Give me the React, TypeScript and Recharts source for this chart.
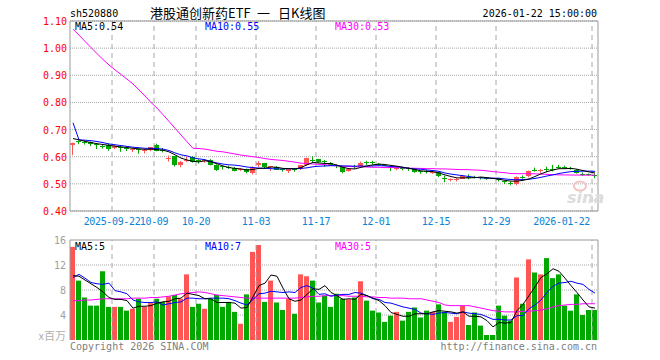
import React from 'react';
import { ComposedChart, Bar, Line, XAxis, YAxis, CartesianGrid, ReferenceLine } from 'recharts';

const dates = [
  '2025-09-11','2025-09-12','2025-09-15','2025-09-16','2025-09-17','2025-09-18','2025-09-19','2025-09-22','2025-09-23','2025-09-24',
  '2025-09-25','2025-09-26','2025-09-29','2025-09-30','2025-10-09','2025-10-10','2025-10-13','2025-10-14','2025-10-15','2025-10-16',
  '2025-10-17','2025-10-20','2025-10-21','2025-10-22','2025-10-23','2025-10-24','2025-10-27','2025-10-28','2025-10-29','2025-10-30',
  '2025-10-31','2025-11-03','2025-11-04','2025-11-05','2025-11-06','2025-11-07','2025-11-10','2025-11-11','2025-11-12','2025-11-13',
  '2025-11-14','2025-11-17','2025-11-18','2025-11-19','2025-11-20','2025-11-21','2025-11-24','2025-11-25','2025-11-26','2025-11-27',
  '2025-11-28','2025-12-01','2025-12-02','2025-12-03','2025-12-04','2025-12-05','2025-12-08','2025-12-09','2025-12-10','2025-12-11',
  '2025-12-12','2025-12-15','2025-12-16','2025-12-17','2025-12-18','2025-12-19','2025-12-22','2025-12-23','2025-12-24','2025-12-25',
  '2025-12-26','2025-12-29','2025-12-30','2025-12-31','2026-01-05','2026-01-06','2026-01-07','2026-01-08','2026-01-09','2026-01-12',
  '2026-01-13','2026-01-14','2026-01-15','2026-01-16','2026-01-19','2026-01-20','2026-01-21','2026-01-22',
];

const openP = [
  0.643,0.658,0.655,0.654,0.648,0.641,0.645,0.632,0.637,0.631,
  0.626,0.627,0.620,0.623,0.645,0.626,0.590,0.601,0.572,0.586,
  0.600,0.588,0.583,0.589,0.570,0.565,0.563,0.560,0.552,0.554,
  0.541,0.571,0.576,0.561,0.563,0.556,0.547,0.556,0.553,0.569,
  0.589,0.590,0.584,0.578,0.568,0.562,0.548,0.565,0.567,0.579,
  0.579,0.575,0.571,0.562,0.555,0.560,0.557,0.554,0.546,0.548,
  0.540,0.542,0.522,0.514,0.514,0.520,0.527,0.527,0.524,0.522,
  0.521,0.520,0.509,0.504,0.501,0.527,0.527,0.552,0.548,0.554,
  0.556,0.562,0.562,0.560,0.552,0.538,0.536,0.534,
];
const highP = [
  0.652,0.660,0.659,0.656,0.650,0.643,0.648,0.642,0.639,0.633,
  0.631,0.629,0.628,0.636,0.648,0.632,0.604,0.603,0.584,0.600,
  0.602,0.591,0.590,0.591,0.572,0.567,0.567,0.562,0.558,0.556,
  0.565,0.584,0.577,0.566,0.565,0.558,0.556,0.558,0.570,0.597,
  0.601,0.592,0.588,0.580,0.572,0.563,0.557,0.570,0.582,0.585,
  0.585,0.576,0.573,0.566,0.562,0.562,0.562,0.556,0.547,0.552,
  0.548,0.543,0.530,0.520,0.521,0.533,0.535,0.530,0.526,0.525,
  0.522,0.521,0.511,0.508,0.527,0.531,0.549,0.560,0.555,0.563,
  0.570,0.570,0.567,0.563,0.554,0.542,0.538,0.538,
];
const lowP = [
  0.606,0.646,0.645,0.639,0.628,0.630,0.622,0.628,0.618,0.621,
  0.617,0.611,0.612,0.620,0.620,0.616,0.582,0.564,0.561,0.580,
  0.578,0.575,0.578,0.568,0.548,0.553,0.555,0.546,0.547,0.539,
  0.535,0.562,0.557,0.548,0.551,0.545,0.540,0.545,0.551,0.567,
  0.579,0.576,0.563,0.566,0.558,0.539,0.545,0.556,0.565,0.570,
  0.571,0.569,0.566,0.547,0.550,0.550,0.548,0.541,0.537,0.538,
  0.537,0.525,0.506,0.509,0.509,0.518,0.517,0.520,0.516,0.515,
  0.518,0.509,0.500,0.495,0.495,0.519,0.524,0.545,0.541,0.543,
  0.546,0.556,0.555,0.552,0.538,0.529,0.530,0.521,
];
const closeP = [
  0.651,0.655,0.653,0.646,0.645,0.636,0.631,0.639,0.634,0.629,
  0.628,0.624,0.624,0.634,0.622,0.622,0.594,0.567,0.582,0.589,
  0.582,0.585,0.587,0.571,0.553,0.562,0.561,0.550,0.554,0.542,
  0.562,0.577,0.560,0.564,0.553,0.553,0.554,0.554,0.568,0.595,
  0.587,0.579,0.582,0.571,0.566,0.544,0.556,0.563,0.578,0.577,
  0.577,0.571,0.570,0.560,0.558,0.557,0.555,0.544,0.544,0.544,
  0.545,0.528,0.520,0.517,0.517,0.530,0.525,0.525,0.522,0.521,
  0.520,0.512,0.507,0.502,0.525,0.525,0.546,0.550,0.551,0.552,
  0.554,0.560,0.560,0.558,0.542,0.536,0.534,0.532,
];

const ma5 = [
  0.667,0.662,0.657,0.652,0.648,0.645,0.642,0.639,0.636,0.634,
  0.631,0.629,0.627,0.628,0.626,0.624,0.618,0.607,0.595,0.588,
  0.583,0.581,0.585,0.581,0.574,0.566,0.560,0.557,0.555,0.551,
  0.553,0.557,0.558,0.562,0.561,0.557,0.556,0.555,0.560,0.570,
  0.579,0.577,0.575,0.575,0.569,0.561,0.556,0.555,0.561,0.566,
  0.570,0.573,0.571,0.568,0.565,0.561,0.557,0.553,0.548,0.546,
  0.545,0.540,0.533,0.527,0.522,0.522,0.522,0.523,0.525,0.523,
  0.520,0.517,0.513,0.510,0.510,0.513,0.518,0.527,0.537,0.545,
  0.551,0.556,0.556,0.557,0.554,0.549,0.544,0.540,
];
const ma10 = [
  0.725,0.662,0.661,0.659,0.656,0.652,0.647,0.644,0.641,0.638,
  0.635,0.633,0.631,0.631,0.630,0.628,0.623,0.614,0.607,0.603,
  0.596,0.592,0.589,0.582,0.577,0.573,0.570,0.569,0.566,0.562,
  0.560,0.558,0.557,0.556,0.555,0.555,0.556,0.556,0.557,0.559,
  0.563,0.565,0.566,0.567,0.567,0.566,0.566,0.565,0.566,0.565,
  0.566,0.567,0.566,0.564,0.563,0.561,0.557,0.555,0.554,0.551,
  0.549,0.546,0.540,0.536,0.533,0.530,0.527,0.524,0.522,0.521,
  0.521,0.521,0.518,0.516,0.515,0.516,0.517,0.520,0.524,0.529,
  0.533,0.538,0.542,0.545,0.546,0.547,0.547,0.546,
];
const ma30 = [
  1.070,1.048,1.025,1.002,0.980,0.958,0.938,0.920,0.903,0.886,
  0.868,0.846,0.824,0.800,0.779,0.755,0.730,0.705,0.680,0.655,
  0.631,0.630,0.628,0.624,0.620,0.618,0.614,0.610,0.606,0.603,
  0.600,0.597,0.593,0.590,0.588,0.586,0.583,0.580,0.576,0.575,
  0.573,0.572,0.571,0.568,0.566,0.565,0.564,0.563,0.5625,0.562,
  0.561,0.561,0.560,0.560,0.560,0.559,0.558,0.5575,0.557,0.556,
  0.556,0.555,0.555,0.554,0.553,0.5525,0.552,0.551,0.550,0.548,
  0.545,0.543,0.541,0.538,0.5375,0.5375,0.5375,0.537,0.536,0.535,
  0.534,0.533,0.533,0.5325,0.5325,0.532,0.532,0.532,
];

const volume = [
  14.9,9.5,6.8,5.5,5.5,11.0,5.3,5.3,5.3,4.7,
  5.0,6.6,5.3,5.9,6.6,6.1,7.0,7.2,6.6,10.5,
  5.3,5.8,5.0,6.6,7.2,5.3,6.1,4.5,2.6,7.3,
  14.1,15.2,6.1,9.5,6.0,4.8,6.6,4.2,10.5,10.2,
  9.5,6.0,7.1,5.3,7.4,6.6,6.5,6.8,9.4,6.3,
  4.7,4.4,2.9,3.9,4.5,3.1,4.5,5.2,3.6,4.7,
  4.5,5.7,4.5,2.9,3.7,5.5,2.4,4.4,2.3,0.8,
  0.8,5.5,3.9,3.1,10.0,5.8,12.9,10.8,10.5,13.1,
  9.9,10.5,5.5,4.7,7.3,4.0,4.8,4.8,
];
const volMa5 = [
  10.3,10.2,9.6,9.0,8.4,7.7,6.8,6.5,6.5,6.3,
  5.1,5.4,5.4,5.5,5.9,6.1,6.2,6.6,6.7,7.5,
  7.3,7.1,6.6,6.6,6.0,6.0,6.0,5.9,5.1,5.2,
  6.9,8.7,9.1,10.4,10.2,8.3,6.6,6.2,6.4,7.3,
  8.2,8.1,8.7,7.6,7.1,6.5,6.6,6.5,7.3,7.1,
  6.7,6.3,5.5,4.4,4.1,3.8,3.8,4.2,4.2,4.2,
  4.5,4.7,4.6,4.5,4.3,4.5,3.8,3.8,3.7,3.1,
  2.1,2.8,2.7,2.8,4.7,5.7,7.1,8.5,10.0,10.6,
  11.4,11.0,9.9,8.7,7.6,6.4,5.3,5.1,
];
const volMa10 = [
  10.0,10.5,9.9,9.2,9.0,8.9,9.1,7.9,7.7,7.4,
  6.4,6.1,6.0,6.0,6.1,5.6,5.8,6.0,6.1,6.7,
  6.7,6.6,6.6,6.7,6.7,6.7,6.6,6.3,5.9,5.6,
  6.5,7.4,7.5,7.8,7.7,7.6,7.7,7.6,8.4,8.7,
  8.3,7.3,7.4,7.0,7.2,7.3,7.3,7.6,7.5,7.1,
  6.6,6.5,6.0,5.9,5.6,5.3,5.1,4.9,4.3,4.2,
  4.1,4.3,4.4,4.3,4.2,4.5,4.3,4.2,4.1,3.7,
  3.3,3.3,3.2,3.2,3.9,3.9,5.0,5.6,6.4,7.6,
  8.6,9.1,9.2,9.4,9.1,8.9,8.1,7.5,
];
const volMa30 = [
  6.3,6.3,6.4,6.4,6.5,6.6,6.6,6.6,6.6,6.6,
  6.7,6.7,6.7,6.8,6.8,6.9,7.0,7.2,7.4,7.5,
  7.6,7.7,7.6,7.4,7.2,7.1,7.0,6.9,6.8,6.7,
  6.7,6.7,6.7,6.7,6.7,6.7,6.7,6.7,6.8,6.9,
  7.0,7.0,7.1,7.1,7.1,7.1,7.0,7.0,7.0,6.9,
  6.9,6.8,6.8,6.7,6.7,6.7,6.6,6.6,6.6,6.4,
  6.2,6.0,5.6,5.5,5.5,5.5,5.5,5.3,5.1,4.9,
  4.7,4.6,4.5,4.5,4.5,4.6,4.6,4.7,4.8,5.0,
  5.3,5.5,5.6,5.7,5.7,5.8,5.8,5.8,
];

const tickDates = ['2025-09-22','2025-10-09','2025-10-20','2025-11-03','2025-11-17','2025-12-01','2025-12-15','2025-12-29','2026-01-22'];
const tickLabels = ['2025-09-22','10-09','10-20','11-03','11-17','12-01','12-15','12-29','2026-01-22'];
const priceTicks = [0.4, 0.5, 0.6, 0.7, 0.8, 0.9, 1.0, 1.1];
const volTicks = [0, 4, 8, 12, 16];

const titleParts = ['港股通创新药ETF', '一', '日K线图'];
const code = 'sh520880';
const stamp = '2026-01-22 15:00:00';
const priceMaLabels = ['MA5:0.54', 'MA10:0.55', 'MA30:0.53'];
const volMaLabels = ['MA5:5', 'MA10:7', 'MA30:5'];

const RED = '#ff5555';
const GREEN = '#00a800';
const GRID = '#a8a8a8';
const MONO = '"DejaVu Sans Mono", monospace';

const rows = dates.map((d, i) => ({
  date: d,
  open: openP[i],
  high: highP[i],
  low: lowP[i],
  close: closeP[i],
  range: [lowP[i], highP[i]],
  ma5: ma5[i],
  ma10: ma10[i],
  ma30: ma30[i],
  vol: volume[i],
  vma5: volMa5[i],
  vma10: volMa10[i],
  vma30: volMa30[i],
  up: closeP[i] > openP[i],
}));

const Candle = (props: any) => {
  const { x, payload } = props;
  let { y, height } = props;
  if (height < 0) { y = y + height; height = -height; }
  const { open, close, high, low } = payload;
  const color = close > open ? RED : GREEN;
  const span = high - low;
  const toY = (v: number) => y + ((high - v) / span) * height;
  const yo = toY(open);
  const yc = toY(close);
  const top = Math.min(yo, yc);
  const bot = Math.max(yo, yc);
  const bx = Math.round(x);
  const cx = bx + 2.5;
  return (
    <g>
      <line x1={cx} x2={cx} y1={y} y2={y + height} stroke={color} strokeWidth={1} />
      <rect x={bx} y={Math.round(top)} width={5} height={Math.max(1, Math.round(bot - top))} fill={color} />
    </g>
  );
};

const VolBar = (props: any) => {
  const { x, y, height, payload } = props;
  return <rect x={Math.round(x)} y={y} width={5} height={height} fill={payload.up ? RED : GREEN} />;
};

const PriceYTick = (props: any) => {
  const { y, payload } = props;
  return (
    <text x={67} y={y} dy={4} textAnchor="end" fill="#ff0000" fontSize={10} fontFamily={MONO}>
      {Number(payload.value).toFixed(2)}
    </text>
  );
};

const VolYTick = (props: any) => {
  const { y, payload } = props;
  const v = payload.value;
  if (v === 0) {
    return (
      <text x={66} y={y} dy={0} textAnchor="end" fill="#b0b0b0" fontSize={11} fontFamily='"Noto Sans CJK SC", sans-serif'>
        x百万
      </text>
    );
  }
  return (
    <text x={66} y={y} dy={4} textAnchor="end" fill="#a0a0a0" fontSize={10} fontFamily={MONO}>
      {v}
    </text>
  );
};

const DateTick = (props: any) => {
  const { x, y, payload } = props;
  const off = payload && typeof payload.offset === 'number' ? payload.offset : 3;
  const start = x - off;
  const idx = tickDates.indexOf(payload.value);
  const label = idx >= 0 ? tickLabels[idx] : payload.value;
  const last = idx === tickDates.length - 1;
  return (
    <text
      x={last ? start - 2 : start}
      y={y + 14}
      textAnchor={last ? 'end' : 'middle'}
      fill="#0a84d6"
      fontSize={10}
      letterSpacing={-0.35}
      fontFamily={MONO}
    >
      {label}
    </text>
  );
};

export default function App() {
  const lastDate = dates[dates.length - 1];
  return (
    <div style={{ position: 'absolute', left: 0, top: 0, width: 660, height: 360, background: '#fff' }}>
      <div style={{ position: 'absolute', left: 0, top: 0 }}>
        <ComposedChart width={660} height={232} data={rows} margin={{ top: 21, right: 62, bottom: 0, left: 0 }} barCategoryGap={0}>
          <CartesianGrid vertical={false} stroke={GRID} strokeDasharray="1 1" />
          <XAxis
            dataKey="date"
            ticks={tickDates}
            interval={0}
            height={21}
            tickLine={false}
            tickSize={0}
            tickMargin={0}
            axisLine={{ stroke: '#999' }}
            tick={<DateTick />}
          />
          <YAxis
            width={70}
            domain={[0.4, 1.1]}
            ticks={priceTicks}
            allowDataOverflow
            tickLine={false}
            tickSize={0}
            axisLine={{ stroke: '#999' }}
            tick={<PriceYTick />}
          />
          {tickDates.map((d) => (
            <ReferenceLine key={d} x={d} position="start" stroke={GRID} strokeDasharray="5 4" />
          ))}
          <ReferenceLine y={1.1} stroke="#999" />
          <ReferenceLine x={lastDate} position="end" stroke="#999" />
          <Bar dataKey="range" shape={<Candle />} isAnimationActive={false} />
          <Line type="linear" dataKey="ma30" stroke="#ff00ff" strokeWidth={1} dot={false} activeDot={false} isAnimationActive={false} />
          <Line type="linear" dataKey="ma10" stroke="#0000ff" strokeWidth={1} dot={false} activeDot={false} isAnimationActive={false} />
          <Line type="linear" dataKey="ma5" stroke="#000000" strokeWidth={1} dot={false} activeDot={false} isAnimationActive={false} />
        </ComposedChart>
      </div>
      <div style={{ position: 'absolute', left: 0, top: 230 }}>
        <ComposedChart width={660} height={130} data={rows} margin={{ top: 10, right: 62, bottom: 20, left: 0 }} barCategoryGap={0}>
          <CartesianGrid vertical={false} stroke={GRID} strokeDasharray="1 1" horizontalValues={[4, 8, 12]} />
          <XAxis dataKey="date" hide />
          <YAxis
            width={70}
            domain={[0, 16]}
            ticks={volTicks}
            allowDataOverflow
            tickLine={false}
            tickSize={0}
            axisLine={{ stroke: '#999' }}
            tick={<VolYTick />}
          />
          {tickDates.map((d) => (
            <ReferenceLine key={d} x={d} position="start" stroke={GRID} strokeDasharray="5 4" />
          ))}
          <ReferenceLine y={16} stroke="#999" />
          <ReferenceLine x={lastDate} position="end" stroke="#999" />
          <Bar dataKey="vol" shape={<VolBar />} isAnimationActive={false} />
          <Line type="linear" dataKey="vma30" stroke="#ff00ff" strokeWidth={1} dot={false} activeDot={false} isAnimationActive={false} />
          <Line type="linear" dataKey="vma10" stroke="#0000ff" strokeWidth={1} dot={false} activeDot={false} isAnimationActive={false} />
          <Line type="linear" dataKey="vma5" stroke="#000000" strokeWidth={1} dot={false} activeDot={false} isAnimationActive={false} />
        </ComposedChart>
      </div>
      <svg width={660} height={360} style={{ position: 'absolute', left: 0, top: 0, pointerEvents: 'none' }}>
        <text x={70} y={17} fontSize={10} fontFamily={MONO} fill="#000">{code}</text>
        <text x={150} y={18} fontSize={13} fontFamily='"Noto Sans CJK SC", sans-serif' fill="#000">
          <tspan>{titleParts[0]}</tspan>
          <tspan x={257}>{titleParts[1]}</tspan>
          <tspan x={278}>{titleParts[2]}</tspan>
        </text>
        <text x={597} y={17} textAnchor="end" fontSize={10} fontFamily={MONO} fill="#000">{stamp}</text>
        <text x={75} y={30} fontSize={10} fontFamily={MONO} fill="#000">{priceMaLabels[0]}</text>
        <text x={205} y={30} fontSize={10} fontFamily={MONO} fill="#0000ff">{priceMaLabels[1]}</text>
        <text x={335} y={30} fontSize={10} fontFamily={MONO} fill="#ff00ff">{priceMaLabels[2]}</text>
        <text x={75} y={250} fontSize={10} fontFamily={MONO} fill="#000">{volMaLabels[0]}</text>
        <text x={205} y={250} fontSize={10} fontFamily={MONO} fill="#0000ff">{volMaLabels[1]}</text>
        <text x={335} y={250} fontSize={10} fontFamily={MONO} fill="#ff00ff">{volMaLabels[2]}</text>
        <text x={70} y={350} fontSize={10} fontFamily={MONO} fill="#808080">Copyright 2026 SINA.COM</text>
        <text x={597} y={350} textAnchor="end" fontSize={10} fontFamily={MONO} fill="#808080">http://finance.sina.com.cn</text>
        <ellipse cx={580} cy={186} rx={6} ry={4.5} fill="none" stroke="#f3c4c4" strokeWidth={2} />
        <text x={567} y={203} fontSize={16} fontStyle="italic" fontWeight="bold" fontFamily='"DejaVu Sans", sans-serif' fill="#dcdcdc">sina</text>
      </svg>
    </div>
  );
}
